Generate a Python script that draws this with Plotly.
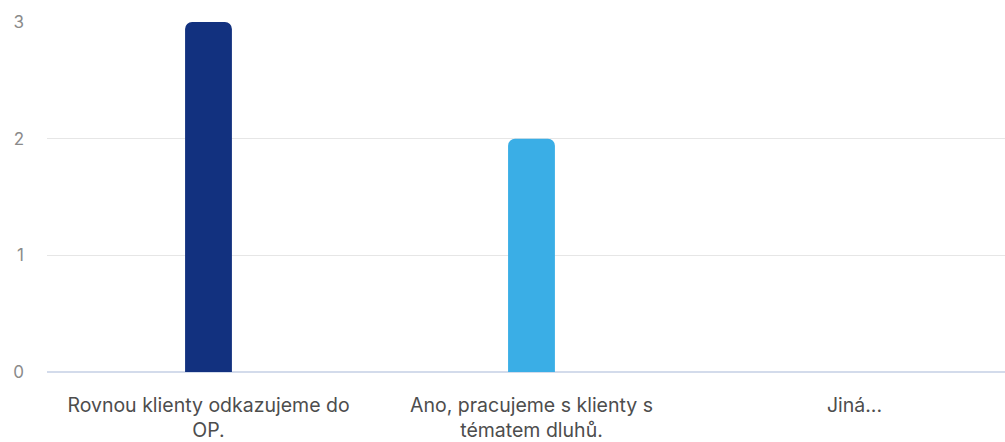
import plotly.graph_objects as go

categories = [
    "Rovnou klienty odkazujeme do<br>OP.",
    "Ano, pracujeme s klienty s<br>tématem dluhů.",
    "Jiná...",
]
values = [3, 2, 0]
bar_colors = ["#12317f", "#3aaee6", "#3aaee6"]
y_ticks = [0, 1, 2, 3]

fig = go.Figure(
    go.Bar(
        x=list(range(len(categories))),
        y=values,
        width=0.145,
        marker=dict(color=bar_colors, cornerradius=7, line=dict(width=0)),
        hoverinfo="skip",
    )
)

fig.update_layout(
    width=1005,
    height=442,
    margin=dict(l=47, r=0, t=22, b=68),
    paper_bgcolor="white",
    plot_bgcolor="white",
    showlegend=False,
    font=dict(family="Inter, sans-serif"),
    xaxis=dict(
        range=[-0.5, 2.466],
        tickmode="array",
        tickvals=list(range(len(categories))),
        ticktext=categories,
        tickfont=dict(size=19.5, color="#4d4d4d"),
        showgrid=False,
        zeroline=False,
        showline=False,
        ticks="",
        ticklabelstandoff=19,
    ),
    yaxis=dict(
        range=[0, 3],
        tickmode="array",
        tickvals=y_ticks,
        tickfont=dict(size=17, color="#8a8a8a"),
        showgrid=True,
        gridcolor="#e6e6e6",
        gridwidth=1,
        zeroline=True,
        zerolinecolor="#d3dbeb",
        zerolinewidth=1.5,
        ticks="",
        ticklabelstandoff=22,
    ),
)

fig.write_html("out.html")
